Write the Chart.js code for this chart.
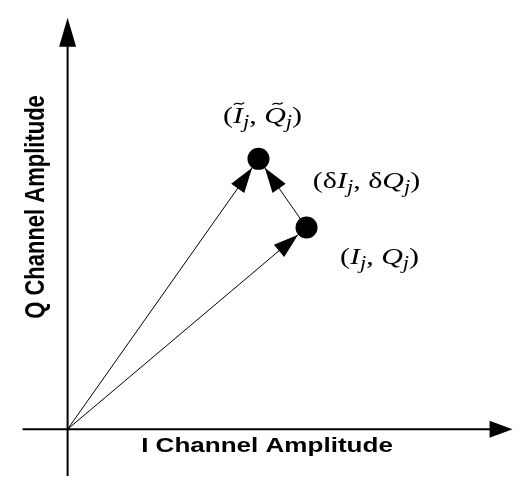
<!DOCTYPE html>
<html>
<head>
<meta charset="utf-8">
<script src="https://cdn.jsdelivr.net/npm/chart.js@4.4.1/dist/chart.umd.min.js"></script>
<style>
  html,body{margin:0;padding:0;background:#fff;}
  #wrap{width:532px;height:487px;}
</style>
</head>
<body>
<div id="wrap"><canvas id="iq"></canvas></div>
<script>
// axis extents (data units): left/bottom end and arrow tip
const axisI = [-1.013, 10];
const axisQ = [-1.137, 10];
const axisTitles = ['I Channel Amplitude', 'Q Channel Amplitude'];

// points: 0 = (I_j, Q_j), 1 = perturbed (~I_j, ~Q_j)
const pointI = [5.37, 4.29];
const pointQ = [4.90, 6.57];
// vectors as [from, to]; -1 means origin
const vectors = [[-1, 0], [-1, 1], [0, 1]];
// labels: '~' puts a tilde on next letter, '_' makes next char a subscript
const pointLabels = ['(I_j, Q_j)', '(~I_j, ~Q_j)'];
const deltaLabel = '(δI_j, δQ_j)';

const DOT_R = 11;
const SERIF = '"Liberation Serif", "Times New Roman", serif';
const SANS = '"Liberation Sans", Arial, sans-serif';

function arrowHead(ctx, x0, y0, x1, y1, len, half){
  const a = Math.atan2(y1 - y0, x1 - x0), c = Math.cos(a), s = Math.sin(a);
  ctx.beginPath();
  ctx.moveTo(x1, y1);
  ctx.lineTo(x1 - len*c + half*s, y1 - len*s - half*c);
  ctx.lineTo(x1 - len*c - half*s, y1 - len*s + half*c);
  ctx.closePath();
  ctx.fill();
}

function parseLabel(str){
  const segs = [];
  let tilde = false, sub = false;
  for (const ch of str){
    if (ch === '~'){ tilde = true; continue; }
    if (ch === '_'){ sub = true; continue; }
    segs.push({ t: ch, it: /[A-Za-z]/.test(ch), tilde, sub });
    tilde = false; sub = false;
  }
  return segs;
}

// rich label, x-stretched a bit like the original figure
function drawRich(ctx, str, cx, base, size, sx){
  const segs = parseLabel(str);
  const fontOf = s => `${s.it ? 'italic ' : ''}${s.sub ? Math.round(size*0.75) : size}px ${SERIF}`;
  let w = 0;
  segs.forEach(s => { ctx.font = fontOf(s); s.w = ctx.measureText(s.t).width; w += s.w; });
  ctx.save();
  ctx.translate(cx, base);
  ctx.scale(sx, 1);
  ctx.textBaseline = 'alphabetic';
  ctx.textAlign = 'left';
  let x = -w/2;
  segs.forEach(s => {
    ctx.font = fontOf(s);
    const dy = s.sub ? size*0.22 : 0;
    ctx.fillText(s.t, x, dy);
    if (s.tilde){
      // small wave centred over the (slanted) letter
      const mid = x + s.w*0.62, half = size*0.17, ty = -size*0.80, amp = size*0.045;
      ctx.beginPath();
      ctx.moveTo(mid - half, ty + amp);
      ctx.bezierCurveTo(mid - half*0.4, ty - amp*3, mid + half*0.4, ty + amp*3, mid + half, ty - amp);
      ctx.lineWidth = 1.2;
      ctx.stroke();
    }
    x += s.w;
  });
  ctx.restore();
}

const decor = {
  id: 'iqDecor',
  afterDatasetsDraw(chart){
    const { ctx, scales: { x, y } } = chart;
    const px = v => x.getPixelForValue(v), py = v => y.getPixelForValue(v);
    const ptX = i => i < 0 ? px(0) : px(pointI[i]);
    const ptY = i => i < 0 ? py(0) : py(pointQ[i]);
    ctx.save();
    ctx.fillStyle = '#000';
    ctx.strokeStyle = '#000';
    // axis arrowheads
    arrowHead(ctx, px(axisI[0]), py(0), px(axisI[1]), py(0), 23, 8.5);
    arrowHead(ctx, px(0), py(axisQ[0]), px(0), py(axisQ[1]), 29, 8.5);
    // vector arrowheads stop on the dot edge
    vectors.forEach(([a, b]) => {
      const x0 = ptX(a), y0 = ptY(a), x1 = ptX(b), y1 = ptY(b);
      const len = Math.hypot(x1 - x0, y1 - y0);
      const tx = x1 - (x1 - x0)/len*DOT_R, ty = y1 - (y1 - y0)/len*DOT_R;
      arrowHead(ctx, x0, y0, tx, ty, 25, 8);
    });
    // point labels
    drawRich(ctx, pointLabels[0], ptX(0) + 73, ptY(0) + 36, 24, 1.25);
    drawRich(ctx, pointLabels[1], ptX(1) + 4, ptY(1) - 36, 24, 1.25);
    const mx = (ptX(0) + ptX(1))/2, my = (ptY(0) + ptY(1))/2;
    drawRich(ctx, deltaLabel, mx + 84, my - 5, 24, 1.25);
    // axis titles
    ctx.textAlign = 'center';
    ctx.textBaseline = 'alphabetic';
    ctx.font = `bold 21px ${SANS}`;
    ctx.save();
    ctx.translate(267, py(0) + 23);
    ctx.scale(1.24, 1);
    ctx.fillText(axisTitles[0], 0, 0);
    ctx.restore();
    ctx.font = `bold 22px ${SANS}`;
    ctx.save();
    ctx.translate(44, py(5.4));
    ctx.scale(1.24, 1);
    ctx.rotate(-Math.PI/2);
    ctx.fillText(axisTitles[1], 0, 0);
    ctx.restore();
    ctx.restore();
  }
};

const lineSet = (pts, w) => ({
  type: 'line', data: pts, showLine: true, borderColor: '#000', borderWidth: w,
  pointRadius: 0, fill: false, clip: false, order: 2
});

const datasets = [
  lineSet([{ x: axisI[0], y: 0 }, { x: axisI[1] - 0.3, y: 0 }], 2),
  lineSet([{ x: 0, y: axisQ[0] }, { x: 0, y: axisQ[1] - 0.4 }], 2),
  ...vectors.map(([a, b]) => lineSet([
    { x: a < 0 ? 0 : pointI[a], y: a < 0 ? 0 : pointQ[a] },
    { x: pointI[b], y: pointQ[b] }
  ], 1)),
  {
    type: 'scatter',
    data: pointI.map((v, i) => ({ x: v, y: pointQ[i] })),
    pointRadius: DOT_R, pointBackgroundColor: '#000', pointBorderWidth: 0,
    clip: false, order: 1
  }
];

new Chart(document.getElementById('iq'), {
  type: 'scatter',
  data: { datasets },
  options: {
    responsive: true,
    maintainAspectRatio: false,
    animation: false,
    layout: { padding: 0 },
    plugins: { legend: { display: false }, tooltip: { enabled: false } },
    scales: {
      x: { type: 'linear', display: false, min: -1.272, max: 10.19 },
      y: { type: 'linear', display: false, min: -1.137, max: 10.163 }
    }
  },
  plugins: [decor]
});
</script>
</body>
</html>
